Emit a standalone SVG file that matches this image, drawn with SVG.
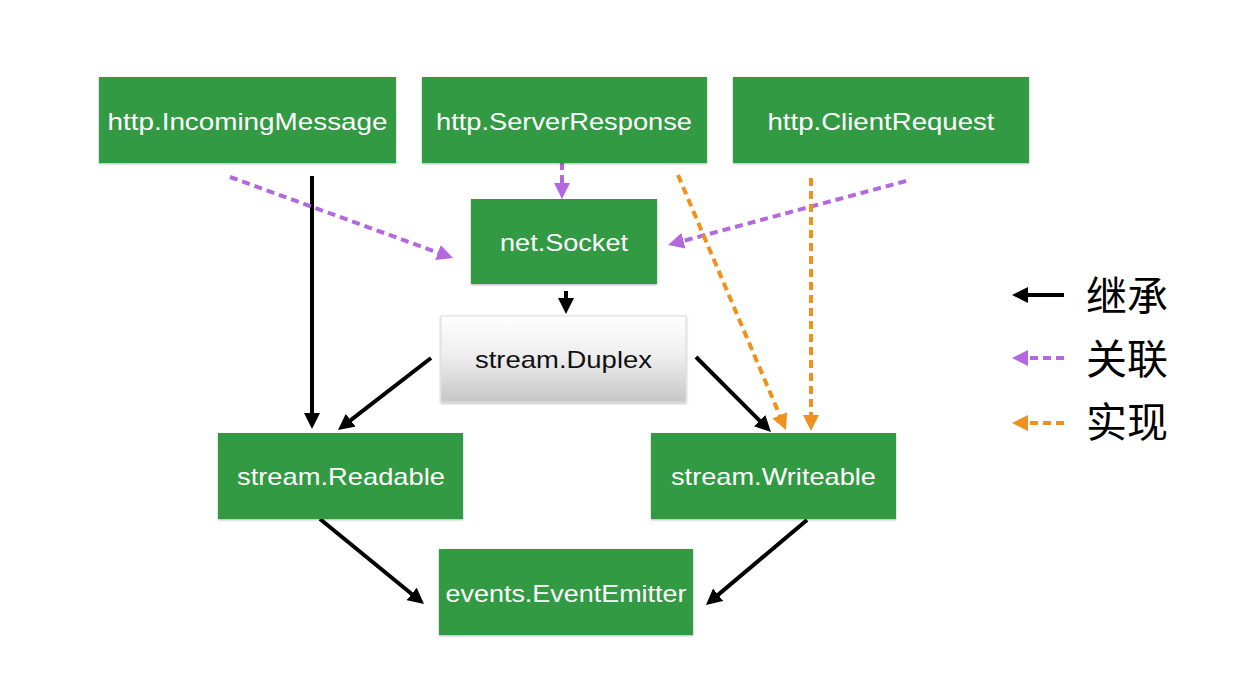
<svg xmlns="http://www.w3.org/2000/svg" width="1259" height="691" viewBox="0 0 1259 691">
<style>
.box{fill:#319a42;filter:url(#sh)}
.t{font-family:"Liberation Sans",Arial,sans-serif;font-size:24px;fill:#fff;text-anchor:middle}
.tk{fill:#111}
.inh{stroke:#000;stroke-width:4;fill:none;marker-end:url(#mb)}
.ass{stroke:#b468e0;stroke-width:4;fill:none;stroke-dasharray:8 5;marker-end:url(#mp)}
.imp{stroke:#f0901e;stroke-width:4;fill:none;stroke-dasharray:8 5;marker-end:url(#mo)}
.lg{font-family:"Noto Sans CJK SC","Noto Sans CJK JP",sans-serif;font-size:41px;fill:#000}
</style>
<defs>
<filter id="sh" x="-5%" y="-10%" width="110%" height="125%">
<feDropShadow dx="0" dy="1" stdDeviation="1.2" flood-color="#000" flood-opacity="0.3"/>
</filter>
<linearGradient id="gd" x1="0" y1="0" x2="0" y2="1">
<stop offset="0" stop-color="#ffffff"/>
<stop offset="0.5" stop-color="#ececec"/>
<stop offset="1" stop-color="#c6c6c6"/>
</linearGradient>
<marker id="mb" markerUnits="userSpaceOnUse" markerWidth="16" markerHeight="16" refX="6" refY="8" orient="auto"><path d="M0,0 L16,8 L0,16 z" fill="#000"/></marker>
<marker id="mp" markerUnits="userSpaceOnUse" markerWidth="16" markerHeight="16" refX="6" refY="8" orient="auto"><path d="M0,0 L16,8 L0,16 z" fill="#b468e0"/></marker>
<marker id="mo" markerUnits="userSpaceOnUse" markerWidth="16" markerHeight="16" refX="6" refY="8" orient="auto"><path d="M0,0 L16,8 L0,16 z" fill="#f0901e"/></marker>
</defs>
<rect width="1259" height="691" fill="#fff"/>

<g id="connectors">
<line class="inh" x1="312" y1="176" x2="312" y2="419"/>
<line class="inh" x1="566" y1="291" x2="566" y2="304"/>
<line class="inh" x1="431" y1="358" x2="345.9" y2="423.9"/>
<line class="inh" x1="696" y1="357" x2="763.9" y2="424.9"/>
<line class="inh" x1="320" y1="519" x2="416.3" y2="597.7"/>
<line class="inh" x1="807" y1="520" x2="713.6" y2="598.6"/>
<line class="ass" x1="230" y1="177" x2="443.6" y2="254.6"/>
<line class="ass" x1="562" y1="162" x2="562" y2="189"/>
<line class="ass" x1="906" y1="181" x2="677.7" y2="242.4"/>
<line class="imp" x1="678" y1="175" x2="782.1" y2="420.8"/>
<line class="imp" x1="811" y1="178" x2="811" y2="421"/>
</g>

<g id="n-incoming"><rect class="box" x="99" y="77" width="297" height="86"/><text class="t" x="247.5" y="130" textLength="280" lengthAdjust="spacingAndGlyphs">http.IncomingMessage</text></g>
<g id="n-serverresponse"><rect class="box" x="422" y="77" width="285" height="86"/><text class="t" x="564" y="130" textLength="256" lengthAdjust="spacingAndGlyphs">http.ServerResponse</text></g>
<g id="n-clientrequest"><rect class="box" x="733" y="77" width="296" height="86"/><text class="t" x="881" y="130" textLength="227" lengthAdjust="spacingAndGlyphs">http.ClientRequest</text></g>
<g id="n-socket"><rect class="box" x="471" y="199" width="186" height="85"/><text class="t" x="564" y="251" textLength="128" lengthAdjust="spacingAndGlyphs">net.Socket</text></g>
<g id="n-duplex"><rect x="441" y="316" width="245" height="86" fill="url(#gd)" stroke="#dcdcdc" stroke-width="1" filter="url(#sh)"/><text class="t tk" x="563.5" y="368" textLength="177" lengthAdjust="spacingAndGlyphs">stream.Duplex</text></g>
<g id="n-readable"><rect class="box" x="218" y="433" width="245" height="86"/><text class="t" x="341" y="485" textLength="208" lengthAdjust="spacingAndGlyphs">stream.Readable</text></g>
<g id="n-writeable"><rect class="box" x="651" y="433" width="245" height="86"/><text class="t" x="773.5" y="485" textLength="205" lengthAdjust="spacingAndGlyphs">stream.Writeable</text></g>
<g id="n-emitter"><rect class="box" x="439" y="549" width="254" height="86"/><text class="t" x="566" y="602" textLength="241" lengthAdjust="spacingAndGlyphs">events.EventEmitter</text></g>

<g id="legend">
<line class="inh" x1="1064" y1="295" x2="1022" y2="295"/>
<text class="lg" x="1086" y="311">继承</text>
<line class="ass" x1="1064" y1="358" x2="1022" y2="358" stroke-dasharray="8 6"/>
<text class="lg" x="1086" y="374">关联</text>
<line class="imp" x1="1064" y1="423" x2="1022" y2="423" stroke-dasharray="8 6"/>
<text class="lg" x="1086" y="437">实现</text>
</g>
</svg>
